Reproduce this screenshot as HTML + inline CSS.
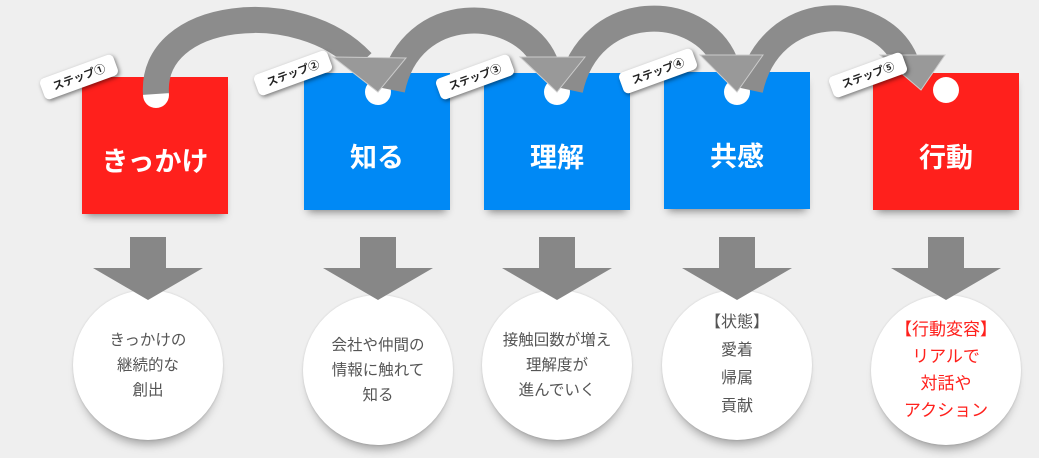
<!DOCTYPE html>
<html><head><meta charset="utf-8"><style>
html,body{margin:0;padding:0}
body{width:1039px;height:458px;background:#efefef;position:relative;overflow:hidden;font-family:"Liberation Sans","Noto Sans CJK JP",sans-serif}
.box{position:absolute;width:146px;height:137px;color:#fff;font-weight:bold;font-size:27px;display:flex;align-items:center;justify-content:center;box-sizing:border-box;padding-top:28px;box-shadow:0 6px 8px -4px rgba(0,0,0,.45)}
.red{background:#ff201c}.blue{background:#0089f5}
.circ{position:absolute;width:150px;height:150px;border-radius:50%;background:#fff;box-shadow:0 10px 10px -6px rgba(0,0,0,.35),0 0 2px rgba(0,0,0,.15);display:flex;align-items:center;justify-content:center;text-align:center;font-size:15.5px;line-height:25px;color:#555}
.tag{position:absolute;width:78px;height:22px;background:#fff;border-radius:5px;box-shadow:1px 2px 4px rgba(0,0,0,.5);font-size:11px;font-weight:bold;color:#222;display:flex;align-items:center;justify-content:center;transform:rotate(-20deg)}
svg{position:absolute;left:0;top:0}
</style></head><body>
<div class="box red" style="left:82px;top:77px">きっかけ</div>
<div class="box blue" style="left:304px;top:73px">知る</div>
<div class="box blue" style="left:484px;top:73px">理解</div>
<div class="box blue" style="left:664px;top:72px">共感</div>
<div class="box red" style="left:873px;top:73px">行動</div>

<svg width="1039" height="458">
<g fill="#fff">
<circle cx="156" cy="95" r="13"/><circle cx="378" cy="92" r="13"/><circle cx="557" cy="92" r="13"/><circle cx="737" cy="92" r="13"/><circle cx="946" cy="90" r="13"/>
</g>
<g fill="none" stroke="#8c8c8c" stroke-width="26">
<path d="M156,94 C150,10 300,-5 362,62"/>
<path d="M392,90 C410,0 520,5 545,62"/>
<path d="M570,90 C590,-2 700,2 725,62"/>
<path d="M750,90 C770,-2 880,2 905,60"/>
</g>
<g fill="#999" stroke="#ccc" stroke-width="1">
<polygon points="333,57 406,58 378,92"/>
<polygon points="520,57 585,57 557,92"/>
<polygon points="700,55 763,55 737,92"/>
<polygon points="880,55 945,55 921,90"/>
</g>
</svg>

<div class="tag" style="left:40px;top:66px">ステップ①</div>
<div class="tag" style="left:254px;top:62px">ステップ②</div>
<div class="tag" style="left:436px;top:66px">ステップ③</div>
<div class="tag" style="left:619px;top:60px">ステップ④</div>
<div class="tag" style="left:829px;top:64px">ステップ⑤</div>

<div class="circ" style="left:73px;top:290px">きっかけの<br>継続的な<br>創出</div>
<div class="circ" style="left:303px;top:295px">会社や仲間の<br>情報に触れて<br>知る</div>
<div class="circ" style="left:482px;top:290px">接触回数が増え<br>理解度が<br>進んでいく</div>
<div class="circ" style="left:662px;top:290px;font-size:16px;line-height:28px">【状態】<br>愛着<br>帰属<br>貢献</div>
<div class="circ" style="left:871px;top:295px;font-size:17px;line-height:27px;color:#ff201c">【行動変容】<br>リアルで<br>対話や<br>アクション</div>

<svg width="1039" height="458">
<g fill="#878787">
<g transform="translate(148,0)"><rect x="-18" y="237" width="36" height="34"/><polygon points="-55,268 55,268 0,300"/></g>
<g transform="translate(378,0)"><rect x="-18" y="237" width="36" height="34"/><polygon points="-55,268 55,268 0,300"/></g>
<g transform="translate(557,0)"><rect x="-18" y="237" width="36" height="34"/><polygon points="-55,268 55,268 0,300"/></g>
<g transform="translate(737,0)"><rect x="-18" y="237" width="36" height="34"/><polygon points="-55,268 55,268 0,300"/></g>
<g transform="translate(946,0)"><rect x="-18" y="237" width="36" height="34"/><polygon points="-55,268 55,268 0,300"/></g>
</g>
</svg>
</body></html>
